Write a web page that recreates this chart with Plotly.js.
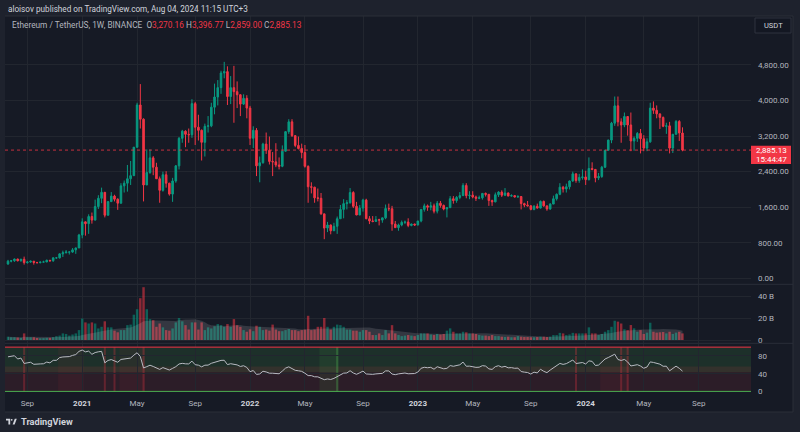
<!DOCTYPE html>
<html><head><meta charset="utf-8">
<script src="https://cdn.plot.ly/plotly-3.0.1.min.js"></script>
<style>html,body{margin:0;padding:0;background:#1e222d;}#chart{width:800px;height:432px;}</style>
</head><body><div id="chart"></div>
<script>
// ---------- data (weekly ETH/USDT, Binance) ----------
const firstWeekUTC = Date.UTC(2020, 6, 27); // first weekly bar: 2020-07-27
const open = [
321,386,395,433,395,428,353,366,385,355,
353,365,368,406,396,460,460,550,575,590,
590,640,683,975,1270,1230,1390,1310,1615,1800,
1935,1420,1725,1850,1780,1690,2080,2140,2240,2310,
2950,3900,3580,2100,2380,2710,2500,2240,1980,2330,
2140,1895,2190,2530,3150,3310,3240,3230,3930,3400,
3330,3060,3420,3430,3850,4080,4290,4620,4650,4090,
4290,4200,4130,3920,4050,3830,3150,3330,2530,2600,
3020,2880,2630,2620,2550,2520,2860,3300,3520,3210,
2990,2920,2830,2520,2060,2050,1810,1800,1450,1130,
1200,1070,1170,1340,1550,1680,1700,1930,1620,1425,
1580,1760,1340,1290,1280,1320,1310,1360,1570,1565,
1220,1140,1200,1260,1265,1190,1220,1200,1290,1550,
1630,1600,1630,1510,1690,1640,1560,1590,1790,1750,
1820,1860,2090,1860,1870,1830,1800,1810,1910,1890,
1750,1720,1880,1940,1870,1920,1850,1860,1830,1840,
1680,1650,1630,1550,1620,1580,1730,1630,1560,1670,
1790,1890,2050,2010,2060,2190,2350,2200,2270,2280,
2220,2470,2450,2260,2290,2500,2880,3110,3490,3880,
3520,3450,3640,3450,3090,3150,3260,3140,2930,3070,
3830,3780,3700,3620,3420,3430,2930,3240,3530,3270.16];
const high = [
415,410,445,442,440,488,390,398,385,370,
375,395,420,412,470,480,560,622,635,605,
680,690,1000,1350,1280,1440,1480,1770,1870,2040,
1935,1740,1940,1880,1800,2140,2200,2550,2640,2950,
3950,4370,3600,2900,2900,2750,2600,2290,2400,2410,
2150,2260,2550,3180,3340,3330,3370,4030,3970,3680,
3350,3480,3650,3950,4380,4460,4670,4870,4770,4550,
4780,4430,4140,4140,4120,3880,3420,3380,2740,3050,
3280,3190,2840,3040,2720,2990,3310,3580,3580,3220,
3190,3030,3000,2540,2160,2060,2020,1920,1450,1270,
1210,1250,1390,1650,1780,1760,2030,1960,1720,1650,
1790,1790,1400,1400,1400,1340,1365,1660,1680,1630,
1290,1230,1300,1300,1350,1230,1230,1290,1560,1680,
1660,1720,1680,1740,1740,1660,1600,1850,1850,1850,
1940,2140,2140,1960,1960,1860,1860,1920,1930,1890,
1770,1930,1960,1980,2030,1930,1890,1870,1870,1850,
1700,1740,1650,1650,1680,1750,1750,1630,1690,1860,
1910,2140,2080,2130,2200,2400,2360,2350,2450,2420,
2720,2610,2460,2370,2530,2890,3120,3520,4090,4090,
3600,3730,3650,3730,3190,3290,3360,3220,3150,3950,
3980,3890,3700,3640,3500,3520,3250,3560,3560,3396.77];
const low = [
305,360,370,380,375,308,330,350,308,330,
335,360,365,370,370,440,445,480,560,535,
575,550,680,900,960,1000,1230,1300,1560,1690,
1370,1410,1720,1730,1540,1680,1930,1950,2100,2300,
2940,3370,1730,2100,2350,2320,2240,1700,1950,2040,
1860,1720,2150,2450,3050,2950,3050,3160,3000,3100,
2650,2740,3280,3400,3690,3890,4150,4500,3900,3920,
3500,3830,3650,3900,3600,3000,2930,2300,2160,2580,
2800,2560,2300,2500,2450,2500,2850,3250,3180,2950,
2900,2700,2490,1700,1910,1700,1730,1430,880,1040,
990,1070,1000,1340,1350,1550,1680,1580,1420,1420,
1500,1330,1220,1260,1270,1190,1250,1330,1510,1070,
1140,1070,1170,1220,1150,1170,1180,1190,1260,1500,
1520,1530,1460,1460,1590,1530,1370,1580,1680,1700,
1780,1860,1800,1780,1800,1740,1780,1770,1840,1630,
1630,1710,1830,1830,1850,1850,1840,1820,1810,1550,
1600,1620,1530,1530,1570,1570,1610,1520,1540,1670,
1750,1870,1930,1930,2000,2170,2150,2150,2220,2100,
2200,2430,2160,2210,2260,2480,2880,3040,3430,3420,
3050,3400,3210,2860,2870,3070,2810,2860,2860,3050,
3700,3600,3360,3400,3250,2810,2820,3240,3090,2859];
const close = [
386,395,433,395,428,353,366,385,355,353,
365,368,406,396,460,460,550,575,590,590,
640,683,975,1270,1230,1390,1310,1615,1800,1935,
1420,1725,1850,1780,1690,2080,2140,2240,2310,2950,
3900,3580,2100,2380,2710,2500,2240,1980,2330,2140,
1895,2190,2530,3150,3310,3240,3230,3930,3400,3330,
3060,3420,3430,3850,4080,4290,4620,4650,4090,4290,
4200,4130,3920,4050,3830,3150,3330,2530,2600,3020,
2880,2630,2620,2550,2520,2860,3300,3520,3210,2990,
2920,2830,2520,2060,2050,1810,1800,1450,1130,1200,
1070,1170,1340,1550,1680,1700,1930,1620,1425,1580,
1760,1340,1290,1280,1320,1310,1360,1570,1565,1220,
1140,1200,1260,1265,1190,1220,1200,1290,1550,1630,
1600,1630,1510,1690,1640,1560,1590,1790,1750,1820,
1860,2090,1860,1870,1830,1800,1810,1910,1890,1750,
1720,1880,1940,1870,1920,1850,1860,1830,1840,1680,
1650,1630,1550,1620,1580,1730,1630,1560,1670,1790,
1890,2050,2010,2060,2190,2350,2200,2270,2280,2220,
2470,2450,2260,2290,2500,2880,3110,3490,3880,3520,
3450,3640,3450,3090,3150,3260,3140,2930,3070,3830,
3780,3700,3620,3420,3430,2930,3240,3530,3270,2885.13];
// weekly volume, billions
const volumeB = [
3.0,2.5,2.5,2.3,2.0,6.0,2.5,2.5,2.5,1.8,1.6,1.7,2.0,2.0,2.5,3.5,4.0,6.0,5.5,4.0,5.0,6.0,9.0,
19.5,16,15,16,15,10.5,12,17,11.5,11.5,8.5,7,9,9,13.5,14,23,28,38,48,
28,19,18,12,15,11.5,9,8.5,10.5,16,20,17,13.5,9.5,16,16,9.5,16,9,11.5,
10.5,12.5,14.5,13.5,12,14.5,12,19,13.5,12,9,7.5,9.7,8,13,12,9,9.5,8.5,14,
9.5,8,8,9,10,9,9,8,9,9.5,22,9,9.5,12,12,20,12,9.5,12,14,
13.5,12,9.5,9.5,8.5,8.5,7.5,9,9,7.5,4.5,4.5,6,4.5,9,6,13.5,6,4.5,3.5,
4,4.5,4,3.5,4.5,6,6,6,5,4.5,5.5,5,5.5,8.5,10.6,7.5,6,6,7.5,7,
6,6,5.5,4.5,4,4,3.5,4.5,3.5,3.5,3,2.7,3,2.5,2.5,3.5,3,2.7,2.7,2.5,
2.5,2.7,3,3,2.7,3,4.5,4.5,6.5,6,4.5,5,6.5,6,6,6,6,11.5,6,6,
4.5,5.5,7.5,9,12,17.5,16.7,15,9.7,9,13.6,10.6,7.5,9,5.5,6.7,15.7,7.5,6.7,7,
7.3,6,7.5,5.5,6.7,7.5,6];
const priceTicks = [0, 800, 1600, 2400, 3200, 4000, 4800];
const priceTickLabels = ['0.00','800.00','1,600.00','2,400.00','3,200.00','4,000.00','4,800.00'];
const volTicks = [0, 20, 40];
const volTickLabels = ['0', '20 B', '40 B'];
const rsiTicks = [0, 40, 80];
const timeTickDates = ['2020-09-07','2021-01-04','2021-05-03','2021-09-06','2022-01-03','2022-05-02','2022-09-05','2023-01-02','2023-05-01','2023-09-04','2024-01-01','2024-05-06','2024-09-02'];
const timeTickLabels = ['Sep','2021','May','Sep','2022','May','Sep','2023','May','Sep','2024','May','Sep'];
const redSignalBars = [5, 30, 33, 42, 176, 190, 192];
const greenSignalBars = [102];
const hotRanges = [[16, 23], [35, 42], [184, 192]];
const coldRanges = [[97, 102]];
const lastPrice = 2885.13;
const countdown = '15:44:47';

// ---------- helpers ----------
const DAY = 864e5;
const iso = ms => new Date(ms).toISOString().slice(0, 19).replace('T', ' ');
const barMs = i => firstWeekUTC + i * 7 * DAY;
const dates = open.map((_, i) => iso(barMs(i)).slice(0, 10));
const W = 800, H = 432, ML = 5, MR = 49, MT = 16, MB = 40;
const PW = W - ML - MR, PH = H - MT - MB;
const px = x => (x - ML) / PW;
const py = y => (H - MB - y) / PH;

function rsiCalc(c, o, len, g0, l0) {
  let ag = g0, al = l0; const out = [];
  for (let i = 0; i < c.length; i++) {
    const prev = i === 0 ? o[0] : c[i - 1];
    const ch = c[i] - prev;
    ag = (ag * (len - 1) + Math.max(ch, 0)) / len;
    al = (al * (len - 1) + Math.max(-ch, 0)) / len;
    out.push(al === 0 ? 100 : 100 - 100 / (1 + ag / al));
  }
  return out;
}
const rsi = rsiCalc(close, open, 14, 20, 7);
const volMA = volumeB.map((_, i) => {
  const s = Math.max(0, i - 19); const w = volumeB.slice(s, i + 1);
  return w.reduce((a, b) => a + b, 0) / w.length;
});
const GREEN = '#089981', RED = '#f23645';
const volColors = close.map((c, i) => c >= open[i] ? 'rgba(8,153,129,0.55)' : 'rgba(242,54,69,0.55)');

const fontFam = 'Roboto, "Noto Sans", sans-serif';
const axisFont = { family: fontFam, size: 8, color: '#b2b5be' };
const grid = '#22262f';

const traces = [
  { type: 'candlestick', x: dates, open, high, low, close, xaxis: 'x', yaxis: 'y',
    increasing: { line: { color: GREEN, width: 1 }, fillcolor: GREEN },
    decreasing: { line: { color: RED, width: 1 }, fillcolor: RED },
    whiskerwidth: 0, hoverinfo: 'skip', showlegend: false },
  { type: 'bar', x: dates, y: volumeB, xaxis: 'x', yaxis: 'y2', width: 0.75 * 7 * DAY,
    marker: { color: volColors, line: { width: 0 } }, hoverinfo: 'skip', showlegend: false },
  { type: 'scatter', mode: 'lines', x: dates, y: volMA, xaxis: 'x', yaxis: 'y2', fill: 'tozeroy',
    line: { width: 0, color: 'rgba(0,0,0,0)' }, fillcolor: 'rgba(255,255,255,0.13)', hoverinfo: 'skip', showlegend: false },
  { type: 'scatter', mode: 'lines', x: dates, y: rsi, xaxis: 'x', yaxis: 'y3',
    line: { width: 1, color: '#b8bac2' }, hoverinfo: 'skip', showlegend: false }
];

const shapes = [];
const frame = '#1e222d', sep = '#2a2e39';
// outer frame
shapes.push({ type: 'rect', xref: 'paper', yref: 'paper', x0: px(0), x1: px(800), y0: py(0), y1: py(16), fillcolor: frame, line: { width: 0 }, layer: 'below' });
shapes.push({ type: 'rect', xref: 'paper', yref: 'paper', x0: px(0), x1: px(800), y0: py(412), y1: py(432), fillcolor: frame, line: { width: 0 }, layer: 'below' });
shapes.push({ type: 'rect', xref: 'paper', yref: 'paper', x0: px(0), x1: px(5), y0: py(0), y1: py(432), fillcolor: frame, line: { width: 0 }, layer: 'below' });
shapes.push({ type: 'rect', xref: 'paper', yref: 'paper', x0: px(793), x1: px(800), y0: py(0), y1: py(432), fillcolor: frame, line: { width: 0 }, layer: 'below' });
[16, 284.3, 343.3, 412].forEach(y => shapes.push({ type: 'line', xref: 'paper', yref: 'paper', x0: px(5), x1: px(793), y0: py(y), y1: py(y), line: { color: sep, width: 1 } }));
shapes.push({ type: 'line', xref: 'paper', yref: 'paper', x0: px(793), x1: px(793), y0: py(16), y1: py(412), line: { color: sep, width: 1 } });
// RSI zones
shapes.push({ type: 'rect', xref: 'paper', yref: 'y3', x0: 0, x1: 1, y0: 43, y1: 100, fillcolor: 'rgba(75,173,77,0.15)', line: { width: 0 }, layer: 'below' });
shapes.push({ type: 'rect', xref: 'paper', yref: 'y3', x0: 0, x1: 1, y0: 0, y1: 56, fillcolor: 'rgba(242,54,69,0.10)', line: { width: 0 }, layer: 'below' });
hotRanges.forEach(([a, b]) => shapes.push({ type: 'rect', xref: 'x', yref: 'y3', x0: iso(barMs(a) - 3.5 * DAY), x1: iso(barMs(b) + 3.5 * DAY), y0: 0, y1: 100, fillcolor: 'rgba(242,54,69,0.06)', line: { width: 0 }, layer: 'below' }));
coldRanges.forEach(([a, b]) => shapes.push({ type: 'rect', xref: 'x', yref: 'y3', x0: iso(barMs(a) - 3.5 * DAY), x1: iso(barMs(b) + 3.5 * DAY), y0: 0, y1: 100, fillcolor: 'rgba(76,175,80,0.10)', line: { width: 0 }, layer: 'below' }));
redSignalBars.forEach(i => shapes.push({ type: 'rect', xref: 'x', yref: 'y3', x0: iso(barMs(i) - 2.2 * DAY), x1: iso(barMs(i) + 2.2 * DAY), y0: 0, y1: 100, fillcolor: 'rgba(242,54,69,0.28)', line: { width: 0 }, layer: 'below' }));
greenSignalBars.forEach(i => shapes.push({ type: 'rect', xref: 'x', yref: 'y3', x0: iso(barMs(i) - 2.2 * DAY), x1: iso(barMs(i) + 2.2 * DAY), y0: 0, y1: 100, fillcolor: 'rgba(76,175,80,0.35)', line: { width: 0 }, layer: 'below' }));
shapes.push({ type: 'line', xref: 'paper', yref: 'y3', x0: 0, x1: 1, y0: 100, y1: 100, line: { color: RED, width: 1 } });
shapes.push({ type: 'line', xref: 'paper', yref: 'y3', x0: 0, x1: 1, y0: 0, y1: 0, line: { color: '#4caf50', width: 1 } });
// last price
shapes.push({ type: 'line', xref: 'paper', yref: 'y', x0: 0, x1: 1, y0: lastPrice, y1: lastPrice, line: { color: RED, width: 1, dash: 'dot' }, opacity: 0.8 });
shapes.push({ type: 'rect', xref: 'paper', yref: 'paper', x0: px(751), x1: px(791), y0: py(164), y1: py(145.7), fillcolor: RED, line: { width: 0 } });
// USDT box
shapes.push({ type: 'rect', xref: 'paper', yref: 'paper', x0: px(755), x1: px(791), y0: py(33), y1: py(18), fillcolor: '#131722', line: { color: '#2f333e', width: 1 } });
// logo
const lp = (x, y) => px(x).toFixed(5) + ',' + py(y).toFixed(5);
shapes.push({ type: 'path', xref: 'paper', yref: 'paper', path: `M${lp(6,418.8)} L${lp(10.2,418.8)} L${lp(10.2,424.6)} L${lp(8.4,424.6)} L${lp(8.4,420.6)} L${lp(6,420.6)} Z`, fillcolor: '#d1d4dc', line: { width: 0 } });
shapes.push({ type: 'circle', xref: 'paper', yref: 'paper', x0: px(10.8), x1: px(12.6), y0: py(420.7), y1: py(418.9), fillcolor: '#d1d4dc', line: { width: 0 } });
shapes.push({ type: 'path', xref: 'paper', yref: 'paper', path: `M${lp(12.6,424.6)} L${lp(14.8,418.8)} L${lp(16.8,418.8)} L${lp(14.6,424.6)} Z`, fillcolor: '#d1d4dc', line: { width: 0 } });

const red = t => `<span style="color:${RED}">${t}</span>`;
const annotations = [
  { xref: 'paper', yref: 'paper', x: px(5.5), y: py(9), xanchor: 'left', yanchor: 'middle', showarrow: false,
    text: 'aloisov published on TradingView.com, Aug 04, 2024 11:15 UTC+3', font: { family: fontFam, size: 8.2, color: '#d1d4dc' } },
  { xref: 'paper', yref: 'paper', x: px(10), y: py(25.5), xanchor: 'left', yanchor: 'middle', showarrow: false,
    text: 'Ethereum / TetherUS, 1W, BINANCE  O' + red('3,270.16') + ' H' + red('3,396.77') + ' L' + red('2,859.00') + ' C' + red('2,885.13'),
    font: { family: fontFam, size: 8.3, color: '#b2b5be' } },
  { xref: 'paper', yref: 'paper', x: px(773), y: py(25.5), xanchor: 'center', yanchor: 'middle', showarrow: false,
    text: 'USDT', font: { family: fontFam, size: 7.5, color: '#d1d4dc' } },
  { xref: 'paper', yref: 'paper', x: px(771), y: py(150.5), xanchor: 'center', yanchor: 'middle', showarrow: false,
    text: '2,885.13', font: { family: fontFam, size: 8, color: '#ffffff' } },
  { xref: 'paper', yref: 'paper', x: px(771), y: py(159), xanchor: 'center', yanchor: 'middle', showarrow: false,
    text: countdown, font: { family: fontFam, size: 8, color: '#ffffff' } },
  { xref: 'paper', yref: 'paper', x: px(19), y: py(421.7), xanchor: 'left', yanchor: 'middle', showarrow: false,
    text: '<b>TradingView</b>', font: { family: fontFam, size: 9.2, color: '#d1d4dc' } }
];

const ytick = { side: 'right', ticks: '', showline: false, zeroline: false, gridcolor: grid, gridwidth: 1, tickfont: axisFont, ticklabelstandoff: 6, fixedrange: true };
const layout = {
  width: W, height: H, margin: { l: ML, r: MR, t: MT, b: MB, pad: 0 },
  paper_bgcolor: '#161a25', plot_bgcolor: 'rgba(0,0,0,0)', showlegend: false, boxgap: 0.3, bargap: 0.25,
  font: { family: fontFam, size: 8, color: '#b2b5be' },
  xaxis: { type: 'date', range: ['2020-07-20 12:00', '2024-12-24 14:00'], anchor: 'y3',
    tickvals: timeTickDates,
    ticktext: timeTickLabels.map(t => /^\d{4}$/.test(t) ? `<span style="color:#d1d4dc"><b>${t}</b></span>` : t),
    ticks: '', showgrid: true, gridcolor: grid, gridwidth: 1, zeroline: false, showline: false,
    tickfont: axisFont, ticklabelstandoff: 5, rangeslider: { visible: false }, fixedrange: true },
  yaxis: Object.assign({}, ytick, { domain: [py(284), 1], range: [-128, 5902], tickvals: priceTicks, ticktext: priceTickLabels }),
  yaxis2: Object.assign({}, ytick, { domain: [py(343), py(285)], range: [-2.73, 50], tickvals: volTicks, ticktext: volTickLabels }),
  yaxis3: Object.assign({}, ytick, { domain: [0, py(344)], range: [-1.36, 107.1], tickvals: rsiTicks, ticktext: rsiTicks.map(String) }),
  shapes, annotations
};
Plotly.newPlot('chart', traces, layout, { displayModeBar: false, staticPlot: true });
</script></body></html>
